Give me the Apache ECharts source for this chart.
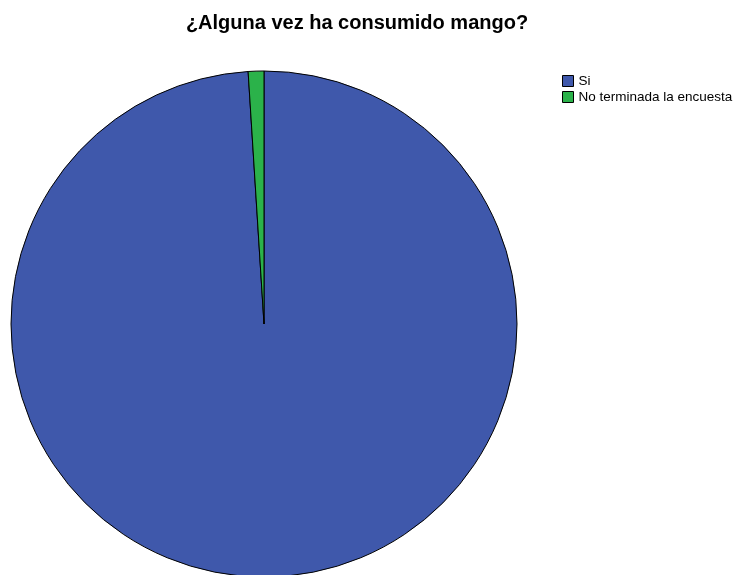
<!DOCTYPE html>
<html><head><meta charset="utf-8">
<script src="https://cdn.jsdelivr.net/npm/echarts@6/dist/echarts.min.js"></script>
<style>html,body{margin:0;padding:0;background:#fff}#c{width:737px;height:575px}</style>
</head><body><div id="c"></div>
<script>
const categories = ["Si", "No terminada la encuesta"];
const values = [99, 1];
const colors = ["#3f58ab", "#2bb24a"];
const chart = echarts.init(document.getElementById('c'), null, {renderer: 'canvas'});
chart.setOption({
  animation: false,
  backgroundColor: '#ffffff',
  title: {
    text: '¿Alguna vez ha consumido mango?',
    left: 352, top: 8, textAlign: 'center',
    textStyle: {fontFamily: 'Liberation Sans, Arial', fontWeight: 'bold', fontSize: 20, color: '#000'}
  },
  legend: {
    orient: 'vertical', left: 562, top: 74, padding: 0,
    itemWidth: 11, itemHeight: 11, itemGap: 2,
    icon: 'rect',
    textStyle: {fontFamily: 'Liberation Sans, Arial', fontSize: 13.5, lineHeight: 14, color: '#000'},
    itemStyle: {borderColor: '#000', borderWidth: 1},
    data: categories
  },
  series: [{
    type: 'pie',
    center: [264, 324], radius: 253,
    startAngle: 90, clockwise: true,
    label: {show: false}, labelLine: {show: false},
    emphasis: {disabled: true},
    itemStyle: {borderColor: '#000', borderWidth: 1},
    data: categories.map((n, i) => ({name: n, value: values[i], itemStyle: {color: colors[i]}}))
  }]
});
</script></body></html>
